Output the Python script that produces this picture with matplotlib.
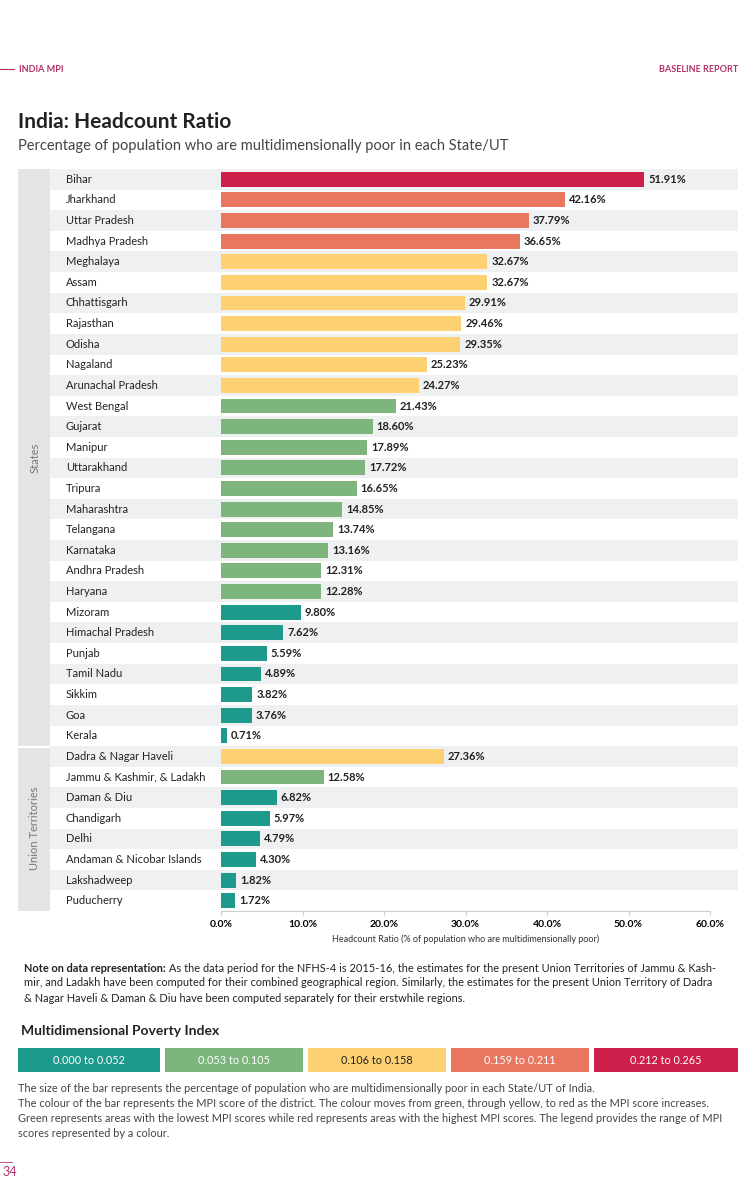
import matplotlib.pyplot as plt
from matplotlib.patches import Rectangle
import matplotlib.transforms as mtransforms

plt.rcParams['font.family'] = ['Lato', 'DejaVu Sans']

# data
states = ['Bihar', 'Jharkhand', 'Uttar Pradesh', 'Madhya Pradesh', 'Meghalaya', 'Assam',
          'Chhattisgarh', 'Rajasthan', 'Odisha', 'Nagaland', 'Arunachal Pradesh',
          'West Bengal', 'Gujarat', 'Manipur', 'Uttarakhand', 'Tripura', 'Maharashtra',
          'Telangana', 'Karnataka', 'Andhra Pradesh', 'Haryana', 'Mizoram',
          'Himachal Pradesh', 'Punjab', 'Tamil Nadu', 'Sikkim', 'Goa', 'Kerala']
state_values = [51.91, 42.16, 37.79, 36.65, 32.67, 32.67, 29.91, 29.46, 29.35, 25.23, 24.27,
                21.43, 18.60, 17.89, 17.72, 16.65, 14.85, 13.74, 13.16, 12.31, 12.28, 9.80,
                7.62, 5.59, 4.89, 3.82, 3.76, 0.71]
state_mpi_class = [4, 3, 3, 3, 2, 2, 2, 2, 2, 2, 2,
                   1, 1, 1, 1, 1, 1, 1, 1, 1, 1, 0,
                   0, 0, 0, 0, 0, 0]
uts = ['Dadra & Nagar Haveli', 'Jammu & Kashmir, & Ladakh', 'Daman & Diu', 'Chandigarh',
       'Delhi', 'Andaman & Nicobar Islands', 'Lakshadweep', 'Puducherry']
ut_values = [27.36, 12.58, 6.82, 5.97, 4.79, 4.30, 1.82, 1.72]
ut_mpi_class = [2, 1, 0, 0, 0, 0, 0, 0]
legend_labels = ['0.000 to 0.052', '0.053 to 0.105', '0.106 to 0.158', '0.159 to 0.211', '0.212 to 0.265']
palette = ['#1d9a8b', '#7db57d', '#fdd072', '#e9775f', '#cd1f4a']
magenta = '#b0306a'

names = states + uts
values = state_values + ut_values
classes = state_mpi_class + ut_mpi_class
n = len(names)

fig = plt.figure(figsize=(7.44, 12), dpi=100)
W, H = 744, 1200
def fx(px): return px / W
def fy(py): return 1 - py / H

# header
fig.add_artist(plt.Line2D([0, fx(14)], [fy(69), fy(69)], color=magenta, lw=0.8))
fig.text(fx(19), fy(69), 'INDIA MPI', color=magenta, fontsize=6.5, fontweight='bold', va='center')
fig.text(fx(738), fy(69), 'BASELINE REPORT', color=magenta, fontsize=6.5, fontweight='bold',
         va='center', ha='right')
fig.text(fx(18), fy(122), 'India: Headcount Ratio', fontsize=15, fontweight='bold', color='#222222', va='center')
fig.text(fx(18), fy(146), 'Percentage of population who are multidimensionally poor in each State/UT',
         fontsize=10.5, color='#444444', va='center')

ax = fig.add_axes([fx(221), fy(911), fx(710) - fx(221), (911 - 169) / H])
ax.set_xlim(0, 60)
ax.set_ylim(n - 0.5, -0.5)
ypos = list(range(n))

trans = mtransforms.blended_transform_factory(fig.transFigure, ax.transData)
for i in ypos:
    if i % 2 == 0:
        ax.add_patch(Rectangle((fx(50), i - 0.5), fx(738) - fx(50), 1, transform=trans,
                               facecolor='#eef0f2', edgecolor='none', clip_on=False, zorder=0))
    ax.text(fx(66), i, names[i], transform=trans, fontsize=8, va='center', color='#222222')

# group label columns
ax.add_patch(Rectangle((fx(18), -0.5), fx(50) - fx(18), len(states), transform=trans,
                       facecolor='#e3e4e6', edgecolor='none', clip_on=False))
ax.add_patch(Rectangle((fx(18), len(states) - 0.5 + 0.08), fx(50) - fx(18), len(uts) - 0.08,
                       transform=trans, facecolor='#e3e4e6', edgecolor='none', clip_on=False))
ax.text(fx(35), (len(states) - 1) / 2, 'States', transform=trans, rotation=90, fontsize=8,
        color='#777777', ha='center', va='center')
ax.text(fx(35), len(states) + (len(uts) - 1) / 2, 'Union Territories', transform=trans,
        rotation=90, fontsize=8, color='#777777', ha='center', va='center')

ax.barh(ypos, values, height=0.72, color=[palette[c] for c in classes], zorder=2)
for i, v in enumerate(values):
    ax.text(v + 0.5, i, f'{v:.2f}%', fontsize=8, va='center', color='#222222', fontweight='bold')

for s in ['top', 'right', 'left']:
    ax.spines[s].set_visible(False)
ax.spines['bottom'].set_color('#cccccc')
ax.set_yticks([])
ax.set_xticks(range(0, 61, 10))
ax.set_xticklabels([f'{t:.1f}%' for t in range(0, 61, 10)], fontsize=7.5, fontweight='bold')
ax.tick_params(axis='x', length=3, color='#cccccc')
ax.set_xlabel('Headcount Ratio (% of population who are multidimensionally poor)', fontsize=6.5,
              color='#333333')
ax.patch.set_alpha(0)

# note
fs = 7.9
bold_note = fig.text(fx(24), fy(969), 'Note on data representation:', fontsize=fs, fontweight='bold',
                     color='#222222', va='center')
fig.canvas.draw()
bb = bold_note.get_window_extent()
fig.text(bb.x1 / W + fx(3), fy(969),
         'As the data period for the NFHS-4 is 2015-16, the estimates for the present Union Territories of Jammu & Kash-',
         fontsize=fs, color='#222222', va='center')
fig.text(fx(24), fy(983), 'mir, and Ladakh have been computed for their combined geographical region. Similarly, the estimates for the present Union Territory of Dadra',
         fontsize=fs, color='#222222', va='center')
fig.text(fx(24), fy(998), '& Nagar Haveli & Daman & Diu have been computed separately for their erstwhile regions.',
         fontsize=fs, color='#222222', va='center')

fig.text(fx(21), fy(1031), 'Multidimensional Poverty Index', fontsize=10, fontweight='bold',
         color='#222222', va='center')
lx = [18, 165, 308, 451, 594]
lw = [142, 138, 138, 138, 144]
for k, lab in enumerate(legend_labels):
    fig.add_artist(Rectangle((fx(lx[k]), fy(1072)), fx(lw[k]), 24 / H, transform=fig.transFigure,
                             facecolor=palette[k], edgecolor='none'))
    fig.text(fx(lx[k] + lw[k] / 2), fy(1060), lab, fontsize=7.8, ha='center', va='center',
             color='#222222' if k == 2 else 'white')

for j, line in enumerate([
        'The size of the bar represents the percentage of population who are multidimensionally poor in each State/UT of India.',
        'The colour of the bar represents the MPI score of the district. The colour moves from green, through yellow, to red as the MPI score increases.',
        'Green represents areas with the lowest MPI scores while red represents areas with the highest MPI scores. The legend provides the range of MPI',
        'scores represented by a colour.']):
    fig.text(fx(18), fy(1089 + 14.7 * j), line, fontsize=fs, color='#444444', va='center')

fig.add_artist(plt.Line2D([0, fx(12)], [fy(1162), fy(1162)], color=magenta, lw=0.6))
fig.text(fx(2), fy(1172), '34', fontsize=9, color=magenta, va='center')

fig.savefig('out.png', dpi=100)
